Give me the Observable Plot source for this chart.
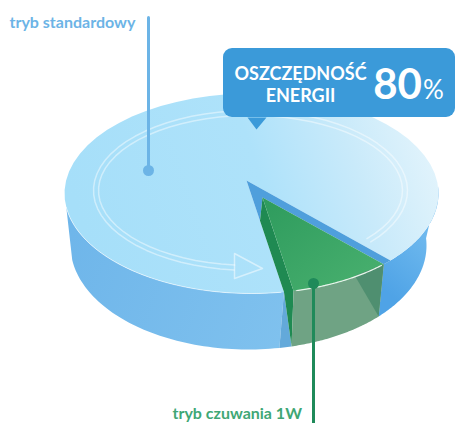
<!DOCTYPE html>
<html lang="pl">
<head>
<meta charset="utf-8">
<script src="https://cdn.jsdelivr.net/npm/d3@7"></script>
<script src="https://cdn.jsdelivr.net/npm/@observablehq/plot@0.6"></script>
<style>html,body{margin:0;padding:0;background:#fff}svg{display:block}</style>
</head>
<body>
<div id="chart"></div>
<script>
// Data
const modes = ["tryb standardowy", "tryb czuwania 1W"];
const savingsShare = [80];
const calloutLines = ["OSZCZĘDNOŚĆ", "ENERGII"];

// Pictorial pie model: rim of the top face and of the floor (degrees, clockwise on screen)
const top_ = {cx: 251, cy: 193, rx: 187, ry: 100};
const floor_ = {cx: 248, cy: 245, rx: 178, ry: 104};
const ringA = {cx: 250, cy: 190, rx: 157, ry: 80};
const ringB = {cx: 250, cy: 190, rx: 152, ry: 75};
const on = (e, a) => [e.cx + e.rx * Math.cos(a * Math.PI / 180), e.cy + e.ry * Math.sin(a * Math.PI / 180)];
const arc = (e, a0, a1) => d3.range(0, 61).map(i => on(e, a0 + (a1 - a0) * i / 60));
const mix = (p, q, t) => [p[0] + (q[0] - p[0]) * t, p[1] + (q[1] - p[1]) * t];

const apex = [246, 180];
const mainEnd = on(top_, 80), mainStart = on(top_, 42);
const greenA = on(top_, 45), greenB = on(top_, 77);
const greenApex = [262, 197];
const greenFloorA = on(floor_, 43), greenFloorB = on(floor_, 76);
const cutLow = mix(apex, mainEnd, 0.36);

const faceFull = [...arc(top_, 42, -280), apex];
const arrowHead = [[234, 253], [262, 268], [234, 278], [234, 253]];

const poly = (pts, fill, opts = {}) => Plot.line(pts, {x: d => d[0], y: d => d[1], fill, stroke: "none", ...opts});
const stroke = (pts, color, width, opts = {}) => Plot.line(pts, {x: d => d[0], y: d => d[1], stroke: color, strokeWidth: width, ...opts});
const label = (text, x, y, o) => Plot.text([text], {text: d => d, x: () => x, y: () => y, fontFamily: "Lato", fontWeight: 700, ...o});

const defs = () => {
  const d = d3.create("svg:defs");
  const grad = (id, x1, y1, x2, y2, stops) => {
    const g = d.append("linearGradient").attr("id", id).attr("gradientUnits", "userSpaceOnUse")
      .attr("x1", x1).attr("y1", y1).attr("x2", x2).attr("y2", y2);
    stops.forEach(([o, c]) => g.append("stop").attr("offset", o).attr("stop-color", c));
  };
  grad("face", 90, 250, 440, 130, [[0, "#a6dff9"], [0.5, "#aee2fa"], [0.75, "#c9eafa"], [1, "#e6f5fc"]]);
  grad("wall", 64, 250, 285, 330, [[0, "#6fb6ea"], [1, "#7fc1ee"]]);
  grad("wallR", 385, 290, 430, 240, [[0, "#4fa3e6"], [1, "#6db8ee"]]);
  grad("green", 270, 200, 340, 290, [[0, "#2f9c5e"], [1, "#45ad6c"]]);
  return d.node();
};

const chart = Plot.plot({
  width: 457, height: 423, margin: 0,
  x: {domain: [0, 457], range: [0, 457], axis: null},
  y: {domain: [0, 423], range: [0, 423], axis: null},
  marks: [
    defs,
    // outer walls
    poly([...arc(top_, 172, 80), ...arc(floor_, 80, 172)], "url(#wall)"),
    poly([greenA, ...arc(top_, 42, -4), ...arc(floor_, -4, 43)], "url(#wallR)"),
    // cut face next to the gap
    poly([mainEnd, greenFloorB, on(floor_, 80)], "#63a9da"),
    // top face
    poly(faceFull, "url(#face)"),
    // blue inner wall
    poly([apex, mainStart, greenA, greenApex, cutLow], "#4f9fdc"),
    // green slice
    poly([greenApex, greenB, greenFloorB, mainEnd, cutLow], "#1f8a52"),
    poly([greenApex, ...arc(top_, 45, 77)], "url(#green)"),
    poly([...arc(top_, 45, 77), ...arc(floor_, 76, 43)], "#6fa384"),
    poly([greenA, greenFloorA, mix(greenA, greenB, 0.32).map((v, i) => v + [0, 3][i])], "#4f8f70"),
    stroke(arc(top_, 46, 76), "#e6f5ea", 1.2),
    // rim and ring
    stroke(arc(top_, 172, 81), "#ffffff", 1, {strokeOpacity: 0.55}),
    stroke(arc(ringA, 40, -264), "#ffffff", 1.5, {strokeOpacity: 0.45}),
    stroke(arc(ringB, 40, -264), "#ffffff", 1.5, {strokeOpacity: 0.45}),
    stroke(arrowHead, "#ffffff", 1.5, {strokeOpacity: 0.5}),
    // callout
    Plot.rect([0], {x1: () => 223, x2: () => 455, y1: () => 48, y2: () => 117, fill: "#3b9ad9", rx: 9}),
    poly([[247, 117], [266, 117], [256, 129]], "#3b9ad9"),
    label(calloutLines[0], 300, 74, {fontSize: 18, fill: "#fff"}),
    label(calloutLines[1], 300, 96, {fontSize: 18, fill: "#fff"}),
    label(String(savingsShare[0]), 397, 85, {fontSize: 42, fill: "#fff"}),
    label("%", 433, 90, {fontSize: 26, fill: "#fff", fontWeight: 400}),
    // leaders
    stroke([[148, 17], [148, 170]], "#6cb4e6", 3),
    Plot.dot([[148, 170]], {x: d => d[0], y: d => d[1], r: 5.5, fill: "#6cb4e6"}),
    stroke([[313, 283], [313, 423]], "#1f8a5a", 3),
    Plot.dot([[313, 283]], {x: d => d[0], y: d => d[1], r: 5.5, fill: "#1f8a5a"}),
    label(modes[0], 9, 22, {fontSize: 16, fill: "#6cb4e6", textAnchor: "start"}),
    label(modes[1], 172, 413, {fontSize: 16, fill: "#3fa775", textAnchor: "start"})
  ]
});
document.getElementById("chart").append(chart);
</script>
</body>
</html>
